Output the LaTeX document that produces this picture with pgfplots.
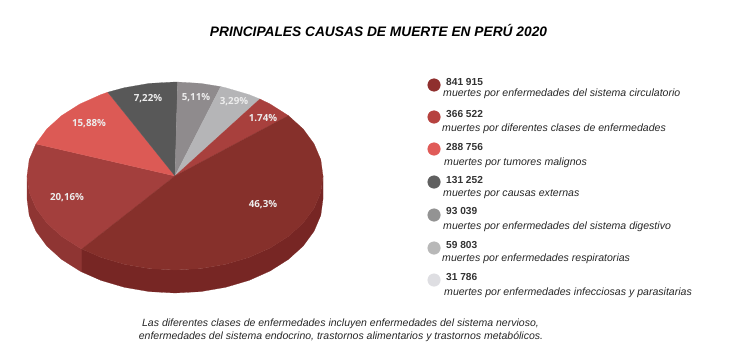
\documentclass[border=0pt]{standalone}
\usepackage{fontspec}
\setmainfont{Liberation Sans}
\newfontfamily\lab{Open Sans}
\usepackage{pgfplots}
\pgfplotsset{compat=1.18}
\definecolor{cA}{HTML}{86302B}\definecolor{cAs}{HTML}{772624}
\definecolor{cB}{HTML}{A33F3D}\definecolor{cBs}{HTML}{8F3533}
\definecolor{cC}{HTML}{DC5A55}
\definecolor{cD}{HTML}{585858}
\definecolor{cE}{HTML}{8F8B8D}
\definecolor{cF}{HTML}{B5B5B7}
\definecolor{cG}{HTML}{A8403D}
\definecolor{dA}{HTML}{8F2F2E}\definecolor{dB}{HTML}{B6423F}\definecolor{dC}{HTML}{E05B58}
\definecolor{dD}{HTML}{606060}\definecolor{dE}{HTML}{939393}\definecolor{dF}{HTML}{B8B8B8}\definecolor{dG}{HTML}{DEDEE2}
\pgfplotsset{wedge/.style={fill=#1,draw=#1,line width=0.2pt,mark=none,forget plot}}
\newcommand{\num}[3]{\node[anchor=west,inner sep=0pt,font=\fontsize{10.2}{12}\selectfont\bfseries,text=black!80] at (axis cs:#1,#2) {#3};}
\newcommand{\txt}[3]{\node[anchor=west,inner sep=0pt,font=\fontsize{10.6}{12}\selectfont\itshape,text=black!85] at (axis cs:#1,#2) {#3};}
\newcommand{\pct}[3]{\node[inner sep=0pt,font=\lab\fontsize{9.8}{12}\selectfont\bfseries,text=white!93!black] at (axis cs:#1,#2) {#3};}
\begin{document}
\begin{tikzpicture}
\path[use as bounding box] (0,0) rectangle (737bp,364bp);
\begin{axis}[at={(0,0)},anchor=south west,scale only axis,width=737bp,height=364bp,xmin=0,xmax=737,ymin=0,ymax=364,y dir=reverse,hide axis]
% side of the pie
\addplot[wedge=cBs] coordinates {(27,176)(29.2,192.3)(35.9,208.1)(46.8,223)(61.6,236.4)(79.9,248)(81.9,249)(81.9,272)(79.9,271)(61.6,259.4)(46.8,246)(35.9,231.1)(29.2,215.3)(27,199)} -- cycle;
\addplot[wedge=cAs] coordinates {(81.9,249)(101,257.4)(124.4,264.3)(149.3,268.6)(175,270)(200.7,268.6)(225.6,264.3)(249,257.4)(270.1,248)(288.4,236.4)(303.2,223)(314.1,208.1)(320.8,192.3)(323,176)(323,199)(320.8,215.3)(314.1,231.1)(303.2,246)(288.4,259.4)(270.1,271)(249,280.4)(225.6,287.3)(200.7,291.6)(175,293)(149.3,291.6)(124.4,287.3)(101,280.4)(81.9,272)} -- cycle;
% top face
\addplot[wedge=cB] coordinates {(175,176)(35.9,143.9)(29.2,159.7)(27,176)(29.2,192.3)(35.9,208.1)(46.8,223)(61.6,236.4)(79.9,248)(81.9,249)} -- cycle;
\addplot[wedge=cC] coordinates {(175,176)(107.8,92.2)(101,94.6)(79.9,104)(61.6,115.6)(46.8,129)(35.9,143.9)} -- cycle;
\addplot[wedge=cD] coordinates {(175,176)(177.6,82)(175,82)(149.3,83.4)(124.4,87.7)(107.8,92.2)} -- cycle;
\addplot[wedge=cE] coordinates {(175,176)(220.7,86.6)(200.7,83.4)(177.6,82)} -- cycle;
\addplot[wedge=cF] coordinates {(175,176)(259.9,99)(249,94.6)(225.6,87.7)(220.7,86.6)} -- cycle;
\addplot[wedge=cG] coordinates {(175,176)(288.4,115.6)(270.1,104)(259.9,99)} -- cycle;
\addplot[wedge=cA] coordinates {(175,176)(81.9,249)(101,257.4)(124.4,264.3)(149.3,268.6)(175,270)(200.7,268.6)(225.6,264.3)(249,257.4)(270.1,248)(288.4,236.4)(303.2,223)(314.1,208.1)(320.8,192.3)(323,176)(320.8,159.7)(314.1,143.9)(303.2,129)(288.4,115.6)} -- cycle;
% legend dots
\addplot[only marks,mark=*,mark size=6.3bp,color=dA,forget plot] coordinates {(434,85)};
\addplot[only marks,mark=*,mark size=6.3bp,color=dB,forget plot] coordinates {(434,117)};
\addplot[only marks,mark=*,mark size=6.3bp,color=dC,forget plot] coordinates {(434,149)};
\addplot[only marks,mark=*,mark size=6.3bp,color=dD,forget plot] coordinates {(434,182)};
\addplot[only marks,mark=*,mark size=6.3bp,color=dE,forget plot] coordinates {(434,215)};
\addplot[only marks,mark=*,mark size=6.3bp,color=dF,forget plot] coordinates {(434,248)};
\addplot[only marks,mark=*,mark size=6.3bp,color=dG,forget plot] coordinates {(434,280)};
% percentages
\pct{263}{205}{46,3\%}
\pct{67}{198}{20,16\%}
\pct{89}{124}{15,88\%}
\pct{148}{99}{7,22\%}
\pct{196}{98}{5,11\%}
\pct{234}{102}{3,29\%}
\pct{263}{118}{1.74\%}
% legend text
\num{446}{82}{841 915}\txt{443}{94}{muertes por enfermedades del sistema circulatorio}
\num{446}{114}{366 522}\txt{442}{129}{muertes por diferentes clases de enfermedades}
\num{446}{147}{288 756}\txt{444}{163}{muertes por tumores malignos}
\num{446}{180}{131 252}\txt{443}{194}{muertes por causas externas}
\num{446}{211}{93 039}\txt{443}{227}{muertes por enfermedades del sistema digestivo}
\num{446}{245}{59 803}\txt{442}{259}{muertes por enfermedades respiratorias}
\num{446}{277}{31 786}\txt{444}{293}{muertes por enfermedades infecciosas y parasitarias}
% title and note
\node[inner sep=0pt,font=\fontsize{13.8}{16}\selectfont\bfseries\itshape] at (axis cs:378.5,30) {PRINCIPALES CAUSAS DE MUERTE EN PERÚ 2020};
\node[inner sep=0pt,font=\fontsize{10.55}{12}\selectfont\itshape,text=black!85] at (axis cs:340.5,324) {Las diferentes clases de enfermedades incluyen enfermedades del sistema nervioso,};
\node[inner sep=0pt,font=\fontsize{10.55}{12}\selectfont\itshape,text=black!85] at (axis cs:341,337) {enfermedades del sistema endocrino, trastornos alimentarios y trastornos metabólicos.};
\end{axis}
\end{tikzpicture}
\end{document}
